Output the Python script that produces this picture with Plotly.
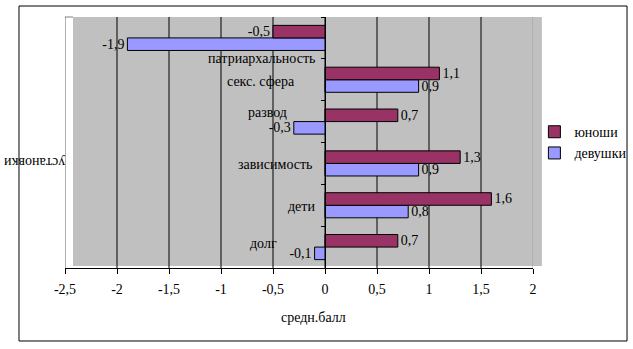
import plotly.graph_objects as go

# Attitude categories, bottom to top
categories = ["долг", "дети", "зависимость", "развод", "секс. сфера", "патриархальность"]
series_names = ["юноши", "девушки"]
boys = [0.7, 1.6, 1.3, 0.7, 1.1, -0.5]
girls = [-0.1, 0.8, 0.9, -0.3, 0.9, -1.9]
x_ticks = [-2.5, -2, -1.5, -1, -0.5, 0, 0.5, 1, 1.5, 2]

FONT = "Liberation Serif"
FS = 14
C_BOYS = "#993366"
C_GIRLS = "#9999FF"
GREY = "#C0C0C0"


def fmt(v):
    s = f"{v:g}" if float(v).is_integer() else f"{v:.1f}"
    return s.replace(".", ",")


# nudges (x px, y px) for the category labels drawn beside the zero line
label_nudge = [(-46, 4), (-8, -1), (-11, -1), (-36, 9), (-28, -2), (-8, -21)]

fig = go.Figure()
# girls first so that the boys' bar sits above within each group
fig.add_trace(go.Bar(
    y=categories, x=girls, orientation="h", name=series_names[1],
    marker=dict(color=C_GIRLS, line=dict(color="black", width=1)),
    text=[fmt(v) for v in girls], textposition="outside", constraintext="none",
    textfont=dict(family=FONT, size=FS, color="black"),
    cliponaxis=False, legendgroup="g",
))
fig.add_trace(go.Bar(
    y=categories, x=boys, orientation="h", name=series_names[0],
    marker=dict(color=C_BOYS, line=dict(color="black", width=1)),
    text=[fmt(v) for v in boys], textposition="outside", constraintext="none",
    textfont=dict(family=FONT, size=FS, color="black"),
    cliponaxis=False, legendgroup="b",
))

shapes = [
    # back wall
    dict(type="rect", xref="paper", yref="paper", x0=0.0171, x1=1.019, y0=0.008, y1=1.0,
         fillcolor=GREY, line=dict(width=0), layer="below"),
    # outer frame
    dict(type="rect", xref="paper", yref="paper", x0=-0.0983, x1=1.2009, y0=-0.2908, y1=1.0438,
         line=dict(color="black", width=1), fillcolor="rgba(0,0,0,0)", layer="above"),
    # top edge of the side wall
    dict(type="line", xref="paper", yref="paper", x0=0, x1=0.0171, y0=1.0, y1=1.0,
         line=dict(color="#808080", width=1), layer="below"),
]
for v in x_ticks:
    if v == x_ticks[-1]:
        col = "#A0A0A0"
    elif v == x_ticks[0]:
        col = "#606060"
    else:
        col = "black"
    shapes.append(dict(type="line", xref="x", yref="paper", x0=v, x1=v, y0=0, y1=1,
                       line=dict(color=col, width=1), layer="below"))

annotations = []
for cat, (dx, dy) in zip(categories, label_nudge):
    annotations.append(dict(x=0, y=cat, xref="x", yref="y", text=cat, showarrow=False,
                            xanchor="right", yanchor="middle", xshift=dx, yshift=dy,
                            font=dict(family=FONT, size=FS, color="black")))
annotations.append(dict(x=0.530, y=-0.199, xref="paper", yref="paper", text="средн.балл",
                        showarrow=False, xanchor="center", yanchor="middle",
                        font=dict(family=FONT, size=FS, color="black")))
annotations.append(dict(x=-0.066, y=0.418, xref="paper", yref="paper", text="установки",
                        showarrow=False, textangle=180, xanchor="center", yanchor="middle",
                        font=dict(family=FONT, size=FS, color="black")))

fig.update_layout(
    width=633, height=349,
    margin=dict(l=65, r=100, t=17, b=81, autoexpand=False),
    paper_bgcolor="white", plot_bgcolor="white",
    barmode="group", bargap=0.4, bargroupgap=0,
    font=dict(family=FONT, size=FS, color="black"),
    showlegend=True,
    legend=dict(x=1.003, y=0.605, xanchor="left", yanchor="top",
                traceorder="reversed", tracegroupgap=8,
                font=dict(family=FONT, size=FS, color="black"),
                bgcolor="rgba(0,0,0,0)"),
    xaxis=dict(range=[-2.5, 2], tickvals=x_ticks, ticktext=[fmt(v) for v in x_ticks],
               showgrid=False, zeroline=False, showline=True, linecolor="black", linewidth=1,
               ticks="outside", ticklen=5, tickcolor="black", ticklabelstandoff=3,
               tickfont=dict(family=FONT, size=FS, color="black")),
    yaxis=dict(type="category", categoryorder="array", categoryarray=categories,
               range=[-0.5, 5.5], anchor="free", position=2.5 / 4.5,
               showgrid=False, zeroline=False, showline=True, linecolor="black", linewidth=1,
               ticks="outside", ticklen=4, tickcolor="black", tickson="boundaries",
               showticklabels=False),
    shapes=shapes,
    annotations=annotations,
)

fig.write_html("out.html")
